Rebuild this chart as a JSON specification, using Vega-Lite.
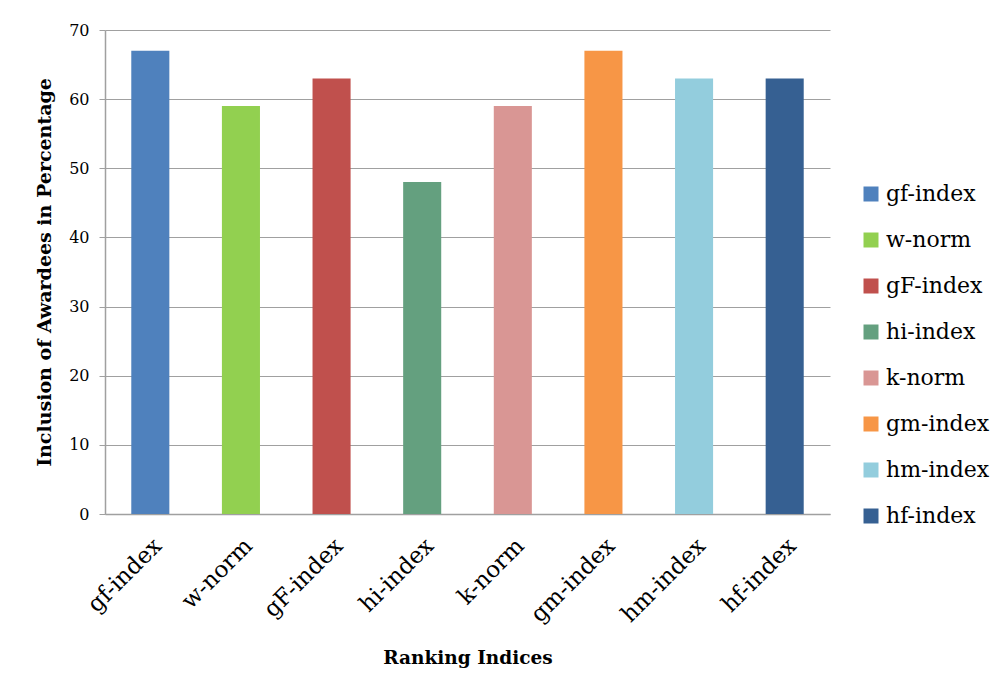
{
  "$schema": "https://vega.github.io/schema/vega-lite/v6.json",
  "width": 725,
  "height": 484,
  "autosize": {"type": "none"},
  "padding": {"left": 105, "top": 30, "right": 175, "bottom": 181},
  "background": "white",
  "data": {"values": [
    {"index": "gf-index", "value": 67},
    {"index": "w-norm", "value": 59},
    {"index": "gF-index", "value": 63},
    {"index": "hi-index", "value": 48},
    {"index": "k-norm", "value": 59},
    {"index": "gm-index", "value": 67},
    {"index": "hm-index", "value": 63},
    {"index": "hf-index", "value": 63}
  ]},
  "mark": {"type": "bar"},
  "encoding": {
    "x": {
      "field": "index", "type": "nominal", "sort": null,
      "scale": {"paddingInner": 0.58, "paddingOuter": 0.29},
      "axis": {
        "title": "Ranking Indices", "labelAngle": -45, "labelFontSize": 23,
        "labelFont": "DejaVu Serif", "labelColor": "black", "ticks": false,
        "labelPadding": 20, "domainColor": "#a0a0a0",
        "titleFont": "DejaVu Serif", "titleFontSize": 18.5, "titleFontWeight": "bold",
        "titleColor": "black", "titlePadding": 22
      }
    },
    "y": {
      "field": "value", "type": "quantitative",
      "scale": {"domain": [0, 70]},
      "axis": {
        "title": "Inclusion of Awardees in Percentage", "values": [0,10,20,30,40,50,60,70],
        "labelFontSize": 16, "labelFont": "DejaVu Serif", "labelColor": "black",
        "tickSize": 6, "tickColor": "#a0a0a0", "gridColor": "#a0a0a0", "domainColor": "#a0a0a0",
        "labelPadding": 10,
        "titleFont": "DejaVu Serif", "titleFontSize": 19, "titleFontWeight": "bold",
        "titleColor": "black", "titlePadding": 14
      }
    },
    "color": {
      "field": "index", "type": "nominal", "sort": null,
      "scale": {
        "domain": ["gf-index","w-norm","gF-index","hi-index","k-norm","gm-index","hm-index","hf-index"],
        "range": ["#4f81bd","#92d050","#c0504d","#64a07f","#d99694","#f79646","#93cddd","#366092"]
      },
      "legend": {
        "title": null, "orient": "none", "legendX": 755, "legendY": 153,
        "symbolType": "square", "symbolSize": 225, "symbolStrokeWidth": 0,
        "labelFont": "DejaVu Serif", "labelFontSize": 22, "labelColor": "black",
        "rowPadding": 24, "labelOffset": 4
      }
    }
  },
  "config": {"view": {"stroke": null}, "axis": {"gridWidth": 1, "domainWidth": 1.5}}
}
